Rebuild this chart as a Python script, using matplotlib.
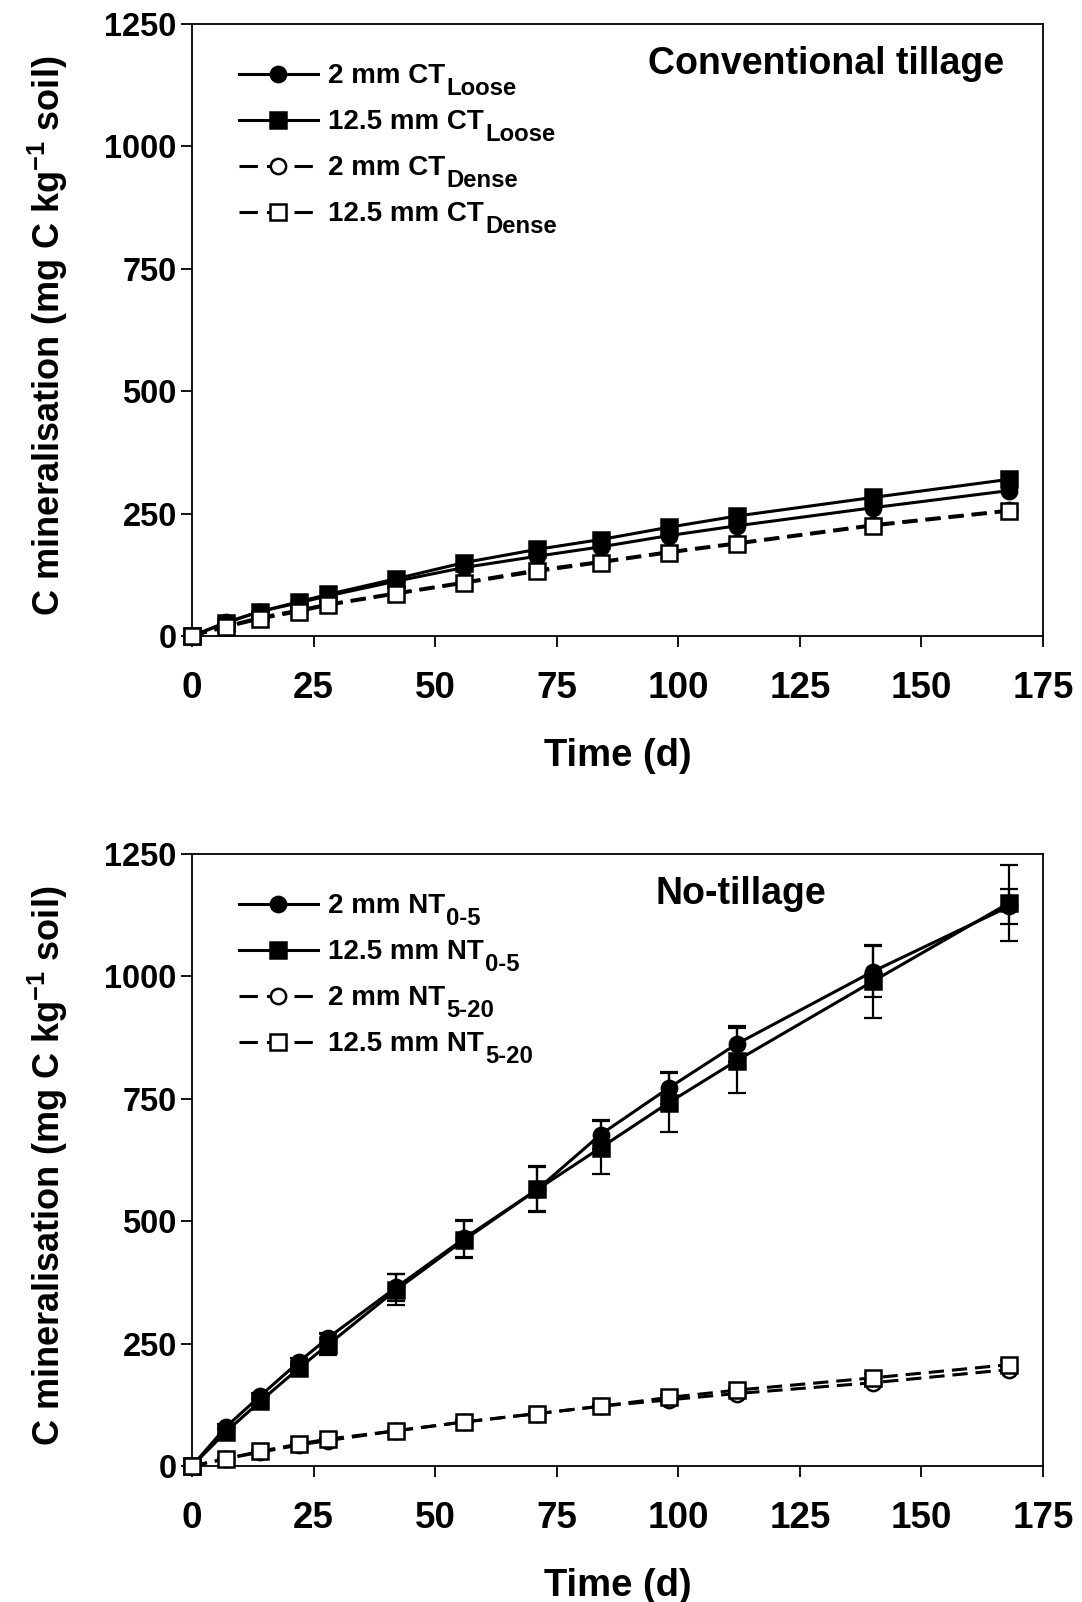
import numpy as np
import matplotlib
matplotlib.use("Agg")
import matplotlib.pyplot as plt
from matplotlib.lines import Line2D

plt.rcParams['font.family'] = ['Liberation Sans', 'DejaVu Sans']
plt.rcParams['font.weight'] = 'bold'
plt.rcParams['mathtext.fontset'] = 'custom'
plt.rcParams['mathtext.rm'] = 'Liberation Sans:bold'
plt.rcParams['mathtext.it'] = 'Liberation Sans:bold'
plt.rcParams['mathtext.bf'] = 'Liberation Sans:bold'
plt.rcParams['mathtext.default'] = 'rm'

days = [0, 7, 14, 22, 28, 42, 56, 71, 84, 98, 112, 140, 168]

# conventional tillage
ct_loose_2 = [0, 28, 50, 68, 82, 112, 140, 163, 182, 205, 225, 262, 297]
ct_loose_12 = [0, 27, 50, 70, 85, 117, 150, 177, 197, 222, 245, 283, 320]
ct_dense_2 = [0, 20, 38, 53, 65, 88, 110, 135, 152, 172, 190, 227, 257]
ct_dense_12 = [0, 18, 35, 50, 63, 86, 108, 132, 150, 170, 188, 225, 255]

# no-tillage
nt05_2 = [0, 80, 143, 213, 262, 365, 465, 565, 677, 772, 862, 1010, 1143]
nt05_2_err = [0, 5, 6, 8, 10, 27, 38, 47, 30, 33, 37, 52, 36]
nt05_12 = [0, 70, 132, 200, 248, 360, 462, 565, 650, 742, 828, 990, 1150]
nt05_12_err = [0, 5, 6, 8, 22, 32, 38, 45, 54, 60, 67, 74, 78]
nt520_2 = [0, 15, 28, 43, 52, 72, 90, 107, 122, 135, 148, 170, 197]
nt520_2_err = [0, 2, 2, 3, 3, 3, 4, 4, 4, 4, 5, 6, 6]
nt520_12 = [0, 15, 30, 45, 55, 72, 90, 107, 122, 140, 155, 180, 207]
nt520_12_err = [0, 2, 2, 3, 3, 3, 4, 4, 4, 4, 5, 7, 10]

ct_main = ['2 mm CT', '12.5 mm CT', '2 mm CT', '12.5 mm CT']
ct_sub = ['Loose', 'Loose', 'Dense', 'Dense']
nt_main = ['2 mm NT', '12.5 mm NT', '2 mm NT', '12.5 mm NT']
nt_sub = ['0-5', '0-5', '5-20', '5-20']

ylab = 'C mineralisation (mg C kg$^{-1}$ soil)'

fig = plt.figure(figsize=(10.82, 16.02), dpi=100)
ax1 = fig.add_axes([0.1775, 0.6030, 0.7865, 0.3820])
ax2 = fig.add_axes([0.1775, 0.0849, 0.7865, 0.3820])

ms = 11
lw = 2.2
dash = (0, (5, 2.6))
leg_fs = 20
legends = []


def draw(ax, series, labels, subs, title, tx):
    for (y, err, filled, mk, ls) in series:
        fc = 'black' if filled else 'white'
        if err is not None:
            ax.errorbar(days, y, yerr=err, fmt='none', ecolor='black',
                        elinewidth=1.6, capsize=6.5, capthick=1.6, zorder=2)
        ax.plot(days, y, color='black', lw=lw, linestyle=ls, marker=mk,
                markersize=ms, markerfacecolor=fc, markeredgecolor='black',
                markeredgewidth=1.8, zorder=3, clip_on=False)
    handles = [Line2D([], [], color='black', lw=lw,
                      linestyle='-' if f else (0, (6, 3)), marker=mk,
                      markersize=ms, markerfacecolor='black' if f else 'white',
                      markeredgecolor='black', markeredgewidth=1.8)
               for (y, err, f, mk, ls) in series]
    leg = ax.legend(handles, labels, loc='upper left',
                    bbox_to_anchor=(0.035, 0.963), frameon=False,
                    fontsize=leg_fs, handlelength=2.85, handletextpad=0.38,
                    labelspacing=0.72, borderaxespad=0.2)
    legends.append((leg, subs))
    ax.text(tx, 0.935, title, transform=ax.transAxes, fontsize=27,
            fontweight='bold', ha='center', va='center')
    ax.set_xlim(0, 175)
    ax.set_ylim(0, 1250)
    ax.set_xticks([0, 25, 50, 75, 100, 125, 150, 175])
    ax.set_yticks([0, 250, 500, 750, 1000, 1250])
    ax.tick_params(axis='x', labelsize=26.5, direction='out', length=8,
                   width=1.3, pad=17.5, top=False)
    ax.tick_params(axis='y', labelsize=23.5, direction='out', length=8,
                   width=1.3, pad=3, right=False)
    for s in ax.spines.values():
        s.set_linewidth(1.3)
    ax.set_xlabel('Time (d)', fontsize=27.5, fontweight='bold', labelpad=23)
    ax.set_ylabel(ylab, fontsize=26, fontweight='bold')
    ax.yaxis.set_label_coords(-0.144, 0.49)
    for t in ax.get_xticklabels() + ax.get_yticklabels():
        t.set_fontweight('bold')


ct_series = [
    (ct_loose_2, None, True, 'o', '-'),
    (ct_loose_12, None, True, 's', '-'),
    (ct_dense_2, None, False, 'o', dash),
    (ct_dense_12, None, False, 's', dash),
]
draw(ax1, ct_series, ct_main, ct_sub, 'Conventional tillage', 0.745)

nt_series = [
    (nt05_2, nt05_2_err, True, 'o', '-'),
    (nt05_12, nt05_12_err, True, 's', '-'),
    (nt520_2, nt520_2_err, False, 'o', dash),
    (nt520_12, nt520_12_err, False, 's', dash),
]
draw(ax2, nt_series, nt_main, nt_sub, 'No-tillage', 0.645)

# subscripts in the legends, almost full size like the original
fig.canvas.draw()
r = fig.canvas.get_renderer()
W, H = fig.bbox.width, fig.bbox.height
pt = fig.dpi / 72.0
for leg, subs in legends:
    for t, s in zip(leg.get_texts(), subs):
        bb = t.get_window_extent(r)
        base = bb.y0 + 0.212 * leg_fs * pt
        fig.text((bb.x1 + 1) / W, (base - 0.40 * leg_fs * pt) / H, s,
                 fontsize=leg_fs * 0.86, fontweight='bold',
                 ha='left', va='baseline')

fig.savefig('out.png', dpi=100)
